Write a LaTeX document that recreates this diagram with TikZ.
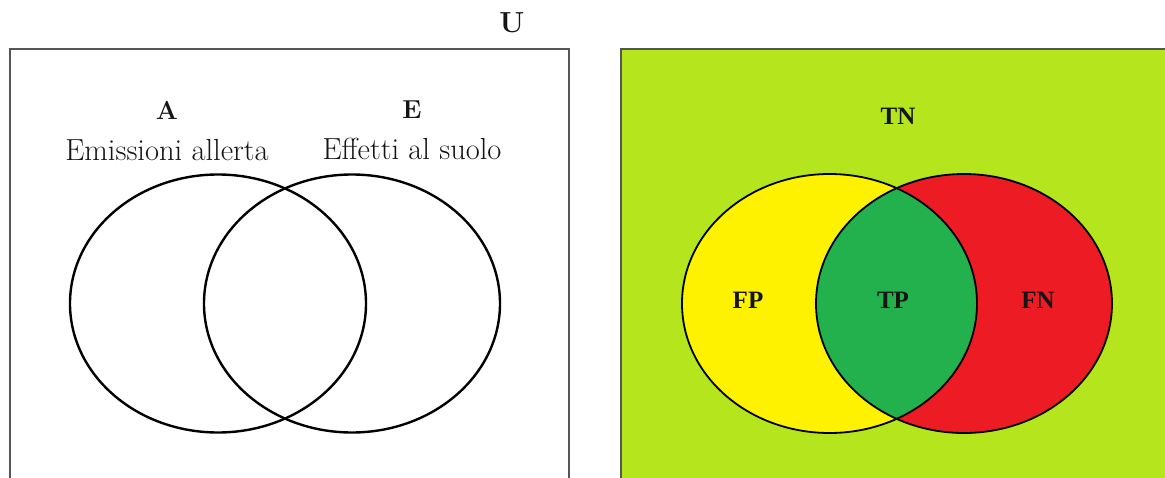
\documentclass[tikz,border=0pt]{standalone}
\usepackage{fontspec}
\newfontfamily\timesbf{Liberation Serif}
\definecolor{limebg}{HTML}{B5E61D}
\definecolor{yel}{HTML}{FFF200}
\definecolor{redc}{HTML}{ED1C24}
\definecolor{greenc}{HTML}{22B14C}
\definecolor{boxgrey}{HTML}{555555}
\definecolor{txt}{HTML}{151515}
\begin{document}
\begin{tikzpicture}[x=1pt,y=-1pt,
  frame/.style={draw=boxgrey,line width=2pt},
  setline/.style={draw=black,line width=2.4pt},
  setlineR/.style={draw=black,line width=1.8pt},
  head/.style={font=\bfseries\fontsize{26}{28}\selectfont,text=txt,inner sep=0pt},
  desc/.style={font=\fontsize{30.5}{34}\selectfont,text=txt,inner sep=0pt,anchor=base},
  cell/.style={font=\timesbf\bfseries\fontsize{25}{28}\selectfont,text=txt,inner sep=0pt}]
\useasboundingbox (0,0) rectangle (1165,477);
\begin{scope}
\clip (0,0) rectangle (1165,477);
% left universe frame (open at bottom)
\draw[frame] (9.5,490) -- (9.5,49) -- (569,49) -- (569,490);
% right universe frame
\fill[limebg] (621,49) rectangle (1175,490);
\draw[frame] (621,490) -- (621,49) -- (1175,49);
% left Venn
\draw[setline] (218,303.5) ellipse [x radius=148, y radius=129];
\draw[setline] (352,303.5) ellipse [x radius=148, y radius=129];
% right Venn
\fill[yel] (829.5,303.5) ellipse [x radius=147.5, y radius=129.5];
\fill[redc] (964,303.5) ellipse [x radius=148, y radius=129.5];
\begin{scope}
\clip (829.5,303.5) ellipse [x radius=147.5, y radius=129.5];
\fill[greenc] (964,303.5) ellipse [x radius=148, y radius=129.5];
\end{scope}
\draw[setlineR] (829.5,303.5) ellipse [x radius=147.5, y radius=129.5];
\draw[setlineR] (964,303.5) ellipse [x radius=148, y radius=129.5];
\end{scope}
% labels
\node[head,font=\bfseries\fontsize{29}{30}\selectfont] (U) at (512,23) {U};
\node[head] (A) at (167,110) {A};
\node[head] (E) at (412,110) {E};
\node[desc] (Adesc) at (167,160) {Emissioni allerta};
\node[desc] (Edesc) at (412,159) {Effetti al suolo};
\node[cell] (TN) at (898,116) {TN};
\node[cell] (FP) at (748,300) {FP};
\node[cell] (TP) at (893,300) {TP};
\node[cell] (FN) at (1038,300) {FN};
\end{tikzpicture}
\end{document}
